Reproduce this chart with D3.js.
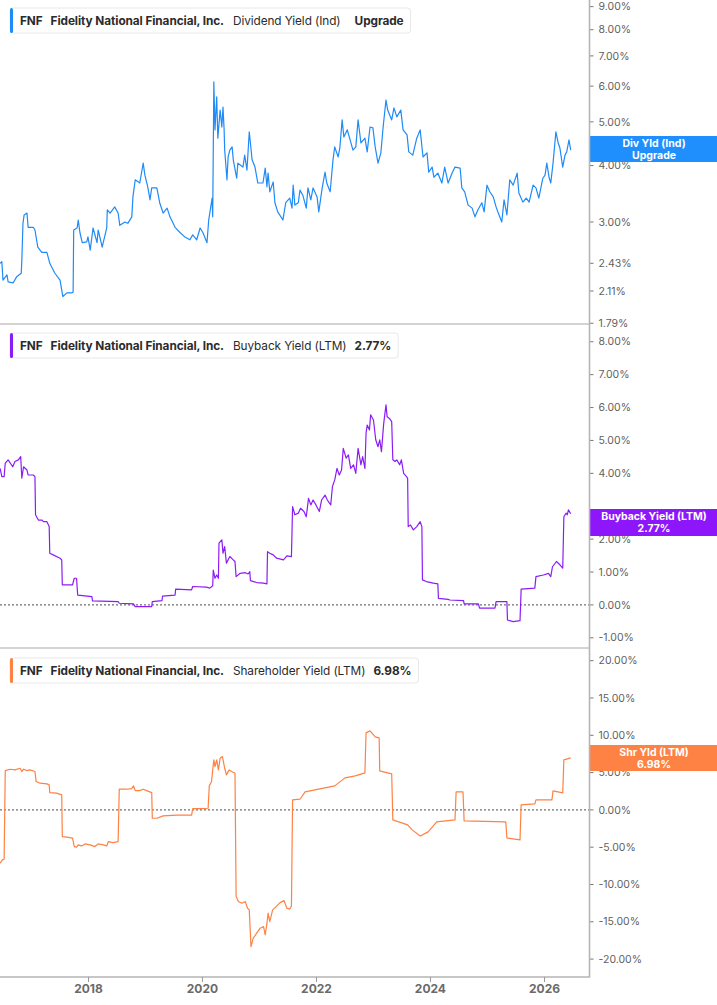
<!DOCTYPE html>
<html>
<head>
<meta charset="utf-8">
<script src="https://cdn.jsdelivr.net/npm/d3@7"></script>
<style>
  body { margin: 0; background: #fff; }
  svg { display: block; font-family: Inter, "Noto Sans", sans-serif; }
</style>
</head>
<body>
<svg id="chart" width="717" height="1005"></svg>
<script>
// dates as decimal years, values in %
const divYears = [2016.45,2016.48,2016.50,2016.57,2016.59,2016.68,2016.74,2016.82,2016.83,2016.85,2016.87,2016.92,2016.94,2017.03,2017.06,2017.11,2017.18,2017.27,2017.32,2017.41,2017.50,2017.55,2017.62,2017.71,2017.73,2017.74,2017.80,2017.82,2017.85,2017.89,2017.97,2017.99,2018.03,2018.08,2018.15,2018.17,2018.24,2018.32,2018.33,2018.38,2018.46,2018.52,2018.55,2018.64,2018.69,2018.76,2018.78,2018.82,2018.90,2018.96,2018.99,2019.04,2019.08,2019.11,2019.20,2019.25,2019.31,2019.38,2019.43,2019.52,2019.61,2019.69,2019.78,2019.83,2019.90,2019.96,2020.01,2020.08,2020.11,2020.17,2020.18,2020.20,2020.22,2020.25,2020.27,2020.31,2020.34,2020.36,2020.38,2020.39,2020.43,2020.45,2020.48,2020.52,2020.54,2020.60,2020.62,2020.71,2020.74,2020.78,2020.82,2020.87,2020.92,2020.97,2021.06,2021.10,2021.13,2021.15,2021.18,2021.24,2021.27,2021.32,2021.41,2021.46,2021.53,2021.57,2021.59,2021.62,2021.68,2021.71,2021.76,2021.82,2021.85,2021.90,2021.94,2022.01,2022.04,2022.10,2022.15,2022.18,2022.24,2022.29,2022.32,2022.38,2022.41,2022.45,2022.48,2022.54,2022.59,2022.64,2022.69,2022.73,2022.78,2022.85,2022.89,2022.94,2022.99,2023.03,2023.08,2023.13,2023.17,2023.22,2023.25,2023.32,2023.36,2023.41,2023.48,2023.52,2023.59,2023.62,2023.69,2023.76,2023.82,2023.87,2023.94,2023.97,2024.03,2024.06,2024.13,2024.20,2024.25,2024.31,2024.38,2024.43,2024.52,2024.55,2024.60,2024.66,2024.73,2024.78,2024.83,2024.90,2024.94,2024.99,2025.04,2025.10,2025.15,2025.18,2025.25,2025.29,2025.34,2025.39,2025.45,2025.52,2025.55,2025.62,2025.68,2025.73,2025.80,2025.85,2025.90,2025.97,2026.01,2026.04,2026.08,2026.11,2026.15,2026.20,2026.24,2026.27,2026.32,2026.36,2026.39,2026.43,2026.46];
const divValues = [2.43,2.45,2.23,2.29,2.21,2.20,2.27,2.31,2.47,2.98,3.11,3.14,2.92,2.92,2.88,2.64,2.57,2.57,2.43,2.31,2.23,2.05,2.09,2.09,2.10,2.88,2.91,3.03,2.84,2.70,2.71,2.78,2.60,2.91,2.70,2.88,2.64,2.91,3.19,3.14,3.24,3.14,2.95,3.00,2.98,3.08,3.41,3.72,3.66,4.05,3.81,3.59,3.36,3.57,3.57,3.31,3.14,3.22,3.08,2.92,2.84,2.78,2.74,2.81,2.74,2.91,2.84,2.70,3.03,3.39,3.08,6.13,4.80,5.68,4.60,5.31,4.87,5.39,4.80,4.33,3.72,4.18,4.33,4.40,4.12,3.75,4.05,3.97,4.22,3.91,4.75,4.12,3.97,3.66,3.66,3.95,3.59,3.85,3.50,3.68,3.31,3.16,3.03,3.31,3.39,3.22,3.62,3.27,3.31,3.53,3.44,3.22,3.57,3.36,3.57,3.41,3.16,3.57,3.87,3.66,3.50,4.12,4.40,4.18,4.38,5.05,4.63,4.80,4.56,4.33,4.40,5.05,4.49,4.60,4.29,4.87,4.85,4.40,4.05,4.27,4.87,5.59,5.31,5.05,5.37,5.13,5.31,4.80,4.68,4.29,4.22,4.60,4.80,4.18,4.27,3.87,3.97,3.77,3.85,3.66,3.97,3.66,3.85,3.97,3.95,3.57,3.50,3.27,3.22,3.08,3.19,3.31,3.16,3.62,3.50,3.41,3.24,3.16,3.00,3.36,3.11,3.72,3.62,3.85,3.48,3.32,3.39,3.32,3.62,3.57,3.39,3.75,3.81,4.05,3.77,3.66,4.05,4.75,4.49,4.38,3.97,4.22,4.29,4.56,4.33];

const buyYears = [2016.45,2016.48,2016.52,2016.54,2016.59,2016.67,2016.71,2016.77,2016.81,2016.83,2016.86,2016.92,2016.94,2017.03,2017.06,2017.07,2017.12,2017.18,2017.21,2017.27,2017.31,2017.32,2017.38,2017.50,2017.53,2017.54,2017.72,2017.75,2017.79,2017.81,2018.06,2018.07,2018.52,2018.54,2018.79,2018.82,2019.11,2019.12,2019.29,2019.30,2019.52,2019.53,2019.81,2019.83,2020.07,2020.13,2020.18,2020.19,2020.22,2020.25,2020.28,2020.29,2020.34,2020.36,2020.39,2020.42,2020.48,2020.54,2020.57,2020.59,2020.66,2020.75,2020.80,2020.83,2020.84,2020.95,2021.07,2021.13,2021.14,2021.18,2021.24,2021.30,2021.42,2021.48,2021.56,2021.58,2021.62,2021.68,2021.72,2021.78,2021.82,2021.86,2021.90,2021.94,2021.99,2022.05,2022.09,2022.15,2022.19,2022.25,2022.28,2022.32,2022.36,2022.40,2022.44,2022.47,2022.52,2022.56,2022.60,2022.65,2022.69,2022.73,2022.78,2022.81,2022.85,2022.87,2022.89,2022.93,2022.95,2023.00,2023.04,2023.08,2023.11,2023.14,2023.18,2023.22,2023.24,2023.28,2023.32,2023.34,2023.38,2023.41,2023.46,2023.49,2023.53,2023.58,2023.60,2023.61,2023.65,2023.70,2023.76,2023.82,2023.85,2023.86,2023.93,2024.05,2024.13,2024.14,2024.31,2024.34,2024.58,2024.59,2024.84,2024.86,2025.13,2025.15,2025.34,2025.35,2025.45,2025.57,2025.59,2025.83,2025.85,2025.98,2026.07,2026.11,2026.14,2026.21,2026.27,2026.32,2026.34,2026.38,2026.40,2026.42,2026.46];
const buyValues = [4.15,3.90,3.90,4.31,4.41,4.20,4.36,4.41,4.51,3.85,4.20,4.10,3.95,3.95,3.90,2.74,2.58,2.58,2.53,2.53,2.38,1.57,1.52,1.42,1.37,0.61,0.61,0.81,0.81,0.30,0.25,0.12,0.10,0.05,0.03,-0.05,-0.05,0.10,0.13,0.27,0.30,0.48,0.46,0.56,0.54,0.51,0.58,1.06,0.81,0.91,0.81,1.88,1.98,1.57,1.77,1.27,1.47,1.37,1.32,0.86,0.96,0.98,0.94,1.01,0.74,0.68,0.66,0.64,1.62,1.57,1.52,1.42,1.37,1.49,1.47,2.99,2.74,2.79,2.94,2.84,2.68,3.24,3.04,3.19,3.04,2.84,3.19,3.34,3.19,3.04,3.60,3.80,4.15,3.95,4.10,4.76,4.46,4.56,4.15,4.26,4.00,4.76,4.26,4.51,4.15,5.22,5.47,5.32,5.78,5.62,5.02,4.81,5.02,4.66,5.52,6.08,5.72,5.67,5.57,4.41,4.36,4.41,4.26,4.41,4.00,3.90,3.85,2.38,2.43,2.28,2.38,2.53,2.38,0.76,0.71,0.66,0.64,0.20,0.17,0.15,0.13,0.03,0.03,-0.10,-0.10,0.10,0.10,-0.46,-0.51,-0.48,0.48,0.51,0.86,0.91,0.96,0.86,1.16,1.32,1.22,1.12,2.68,2.79,2.74,2.89,2.77];

const shrYears = [2016.45,2016.49,2016.52,2016.54,2016.62,2016.71,2016.80,2016.83,2016.86,2016.92,2016.97,2017.06,2017.08,2017.15,2017.27,2017.31,2017.32,2017.44,2017.53,2017.54,2017.62,2017.72,2017.75,2017.79,2017.82,2017.88,2017.94,2018.03,2018.11,2018.17,2018.26,2018.32,2018.35,2018.43,2018.52,2018.54,2018.67,2018.76,2018.79,2018.82,2018.90,2018.96,2019.02,2019.11,2019.12,2019.20,2019.31,2019.55,2019.81,2019.83,2019.96,2020.10,2020.12,2020.16,2020.18,2020.20,2020.22,2020.25,2020.28,2020.31,2020.35,2020.39,2020.42,2020.47,2020.51,2020.57,2020.59,2020.63,2020.69,2020.75,2020.79,2020.82,2020.85,2020.89,2020.95,2021.01,2021.07,2021.10,2021.13,2021.15,2021.18,2021.23,2021.29,2021.36,2021.43,2021.48,2021.53,2021.56,2021.58,2021.71,2021.80,2022.06,2022.32,2022.50,2022.68,2022.85,2022.87,2022.94,2023.03,2023.10,2023.11,2023.32,2023.34,2023.60,2023.68,2023.82,2023.96,2024.11,2024.43,2024.45,2024.57,2024.59,2025.32,2025.34,2025.57,2025.59,2025.83,2025.85,2026.13,2026.15,2026.32,2026.34,2026.46];
const shrValues = [-7.15,-6.70,-6.61,5.27,5.45,5.36,5.58,5.14,5.45,5.27,5.36,5.14,3.80,3.58,3.49,3.35,2.32,2.24,2.01,-3.58,-3.66,-3.79,-4.92,-5.00,-4.69,-4.83,-4.56,-4.69,-4.92,-4.56,-4.69,-4.83,-4.25,-4.38,-4.25,2.77,2.77,2.86,3.22,2.59,2.59,2.77,2.59,2.32,-1.12,-1.12,-0.80,-0.71,-0.71,0.18,0.18,0.22,3.22,3.80,5.36,6.70,5.81,6.70,5.36,6.93,7.15,5.58,4.69,5.36,5.14,4.92,-11.62,-12.29,-12.51,-12.29,-13.18,-13.40,-18.32,-17.20,-16.53,-15.86,-15.64,-16.76,-15.19,-13.85,-14.97,-13.40,-12.96,-12.43,-12.16,-13.18,-13.31,-12.87,1.34,1.43,2.41,2.82,3.22,4.29,4.56,4.96,10.32,10.59,9.79,9.65,5.23,4.83,-1.34,-2.01,-2.68,-3.49,-2.95,-1.61,-1.34,2.41,2.41,-1.47,-1.61,-3.75,-4.02,0.67,0.80,1.34,1.34,2.55,2.28,6.70,6.98];

const divTicks = [9, 8, 7, 6, 5, 4, 3, 2.43, 2.11, 1.79];
const buyTicks = [8, 7, 6, 5, 4, 2, 1, 0, -1];
const shrTicks = [20, 15, 10, 5, 0, -5, -10, -15, -20];
const yearTicks = [2018, 2020, 2022, 2024, 2026];

const company = ['FNF', 'Fidelity National Financial, Inc.'];
const metricNames = ['Dividend Yield (Ind)', 'Buyback Yield (LTM)', 'Shareholder Yield (LTM)'];
const metricValues = ['Upgrade', '2.77%', '6.98%'];
const tagLines = [['Div Yld (Ind)', 'Upgrade'], ['Buyback Yield (LTM)', '2.77%'], ['Shr Yld (LTM)', '6.98%']];
const colors = ['#1f8bf7', '#8c1cf5', '#fd8244'];
const tagColors = ['#1e8ffd', '#8e16fb', '#ff8245'];

const svg = d3.select('#chart');
const plotRight = 589.5;

function yearToDate(y) {
  const yr = Math.floor(y);
  const start = Date.UTC(yr, 0, 1);
  const end = Date.UTC(yr + 1, 0, 1);
  return new Date(start + (y - yr) * (end - start));
}

const xScale = d3.scaleUtc()
  .domain([new Date(Date.UTC(2018, 0, 1)), new Date(Date.UTC(2026, 0, 1))])
  .range([88.5, 544.5]);

const panels = [
  { top: 0, bottom: 324, scale: d3.scaleLog().domain([1.783, 9.31]).range([324, 0]),
    years: divYears, values: divValues, ticks: divTicks, zero: false, tagY: [136, 162] },
  { top: 324, bottom: 648, scale: d3.scaleLinear().domain([-1.31, 8.54]).range([648, 324]),
    years: buyYears, values: buyValues, ticks: buyTicks, zero: true, tagY: [509, 536] },
  { top: 648, bottom: 977, scale: d3.scaleLinear().domain([-22.4, 21.7]).range([977, 648]),
    years: shrYears, values: shrValues, ticks: shrTicks, zero: true, tagY: [745, 771] }
];

const defs = svg.append('defs');

panels.forEach((p, i) => {
  const yScale = p.scale;

  defs.append('clipPath')
    .attr('id', `clip${i}`)
    .append('rect')
    .attr('x', 0)
    .attr('y', p.top)
    .attr('width', plotRight)
    .attr('height', p.bottom - p.top);

  // panel bottom border
  svg.append('line')
    .attr('x1', 0).attr('x2', plotRight)
    .attr('y1', p.bottom).attr('y2', p.bottom)
    .attr('stroke', i === 2 ? '#b5b5b5' : '#a8a8a8')
    .attr('stroke-width', i === 2 ? 1.5 : 1);

  if (p.zero) {
    svg.append('line')
      .attr('x1', 0).attr('x2', plotRight)
      .attr('y1', yScale(0)).attr('y2', yScale(0))
      .attr('stroke', '#707070')
      .attr('stroke-width', 1.2)
      .attr('stroke-dasharray', '2,2');
  }

  const pts = p.years.map((y, k) => ({ date: yearToDate(y), value: p.values[k] }));
  const line = d3.line()
    .x((d) => xScale(d.date))
    .y((d) => yScale(d.value));

  svg.append('path')
    .datum(pts)
    .attr('clip-path', `url(#clip${i})`)
    .attr('fill', 'none')
    .attr('stroke', colors[i])
    .attr('stroke-width', 1.2)
    .attr('stroke-linejoin', 'round')
    .attr('d', line);

  // right axis ticks
  const axisG = svg.append('g');
  axisG.selectAll('line')
    .data(p.ticks)
    .enter()
    .append('line')
    .attr('x1', plotRight).attr('x2', plotRight + 4)
    .attr('y1', (d) => yScale(d)).attr('y2', (d) => yScale(d))
    .attr('stroke', '#777')
    .attr('stroke-width', 1);
  axisG.selectAll('text')
    .data(p.ticks)
    .enter()
    .append('text')
    .attr('x', plotRight + 9)
    .attr('y', (d) => yScale(d))
    .attr('dy', '0.35em')
    .attr('font-size', 10.5)
    .attr('fill', '#5f5f5f')
    .text((d) => d.toFixed(2) + '%');

  // header box
  const hdr = svg.append('g').attr('transform', `translate(10, ${p.top + 8 + (i > 0 ? 1 : 0) + (i > 1 ? 1 : 0)})`);
  const bg = hdr.append('rect')
    .attr('x', 0).attr('y', 0)
    .attr('height', 25)
    .attr('rx', 3)
    .attr('fill', '#fff')
    .attr('stroke', '#e8e8e8');
  hdr.append('rect')
    .attr('x', 0).attr('y', 0)
    .attr('width', 3).attr('height', 25)
    .attr('rx', 1.5)
    .attr('fill', colors[i]);
  const t = hdr.append('text')
    .attr('x', 10)
    .attr('y', 17)
    .attr('font-size', 11.8)
    .attr('letter-spacing', -0.08)
    .attr('fill', '#2b2b2b');
  t.append('tspan').attr('font-weight', 700).text(company[0]);
  t.append('tspan').attr('dx', 8).attr('font-weight', 700).text(company[1]);
  t.append('tspan').attr('dx', 9).attr('font-weight', 400).text(metricNames[i]);
  t.append('tspan').attr('dx', i === 0 ? 14 : 8).attr('font-weight', 700).text(metricValues[i]);
  const w = t.node().getBBox().width;
  bg.attr('width', w + 17);

  // value tag on the axis
  const tag = svg.append('g');
  tag.append('rect')
    .attr('x', plotRight)
    .attr('y', p.tagY[0])
    .attr('width', 717 - plotRight)
    .attr('height', p.tagY[1] - p.tagY[0])
    .attr('fill', tagColors[i]);
  tag.selectAll('text')
    .data(tagLines[i])
    .enter()
    .append('text')
    .attr('x', 654)
    .attr('y', (d, k) => p.tagY[0] + 7.5 + k * 12)
    .attr('dy', '0.35em')
    .attr('text-anchor', 'middle')
    .attr('font-size', 10.5)
    .attr('font-weight', 700)
    .attr('fill', '#fff')
    .text((d) => d);
});

// right axis line
svg.append('line')
  .attr('x1', plotRight).attr('x2', plotRight)
  .attr('y1', 0).attr('y2', 977.5)
  .attr('stroke', '#b5b5b5')
  .attr('stroke-width', 1.6);

// bottom time axis
const xAxisG = svg.append('g');
xAxisG.selectAll('line')
  .data(yearTicks)
  .enter()
  .append('line')
  .attr('x1', (d) => xScale(new Date(Date.UTC(d, 0, 1))))
  .attr('x2', (d) => xScale(new Date(Date.UTC(d, 0, 1))))
  .attr('y1', 977).attr('y2', 982)
  .attr('stroke', '#999');
xAxisG.selectAll('text')
  .data(yearTicks)
  .enter()
  .append('text')
  .attr('x', (d) => xScale(new Date(Date.UTC(d, 0, 1))))
  .attr('y', 993)
  .attr('text-anchor', 'middle')
  .attr('font-size', 12)
  .attr('font-weight', 700)
  .attr('fill', '#6a6a6a')
  .text((d) => d);
</script>
</body>
</html>
